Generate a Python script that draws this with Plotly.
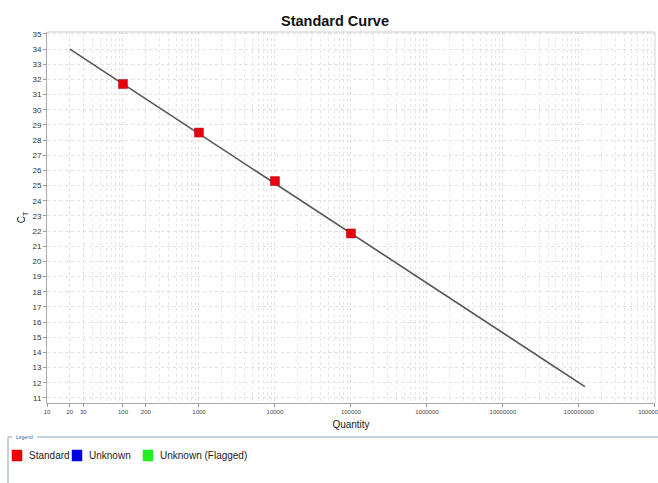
import plotly.graph_objects as go

# ---- data ----
std_quantity = [100, 1000, 10000, 100000]
std_ct = [31.7, 28.5, 25.3, 21.85]
fit_quantity = [20, 1.2e8]
fit_ct = [34.0, 11.75]

x_tickvals = [10, 20, 30, 100, 200, 1000, 10000, 100000, 1000000, 10000000, 100000000, 1000000000]
x_ticktext = ["10", "20", "30", "100", "200", "1000", "10000", "100000", "1000000",
              "10000000", "100000000", "1000000000"]
y_tickvals = list(range(11, 36))

legend_names = ["Standard", "Unknown", "Unknown (Flagged)"]
legend_colors = ["#e8000b", "#0000e0", "#22ee22"]

W, H = 658, 483
ML, MR, MT, MB = 47, 3, 32, 80
PW, PH = W - ML - MR, H - MT - MB


def px(x):
    return (x - ML) / PW


def py(y):
    return (H - MB - y) / PH


FONT = "Liberation Sans, Arial, sans-serif"
fig = go.Figure()

fig.add_trace(go.Scatter(x=fit_quantity, y=fit_ct, mode="lines",
                         line=dict(color="#555555", width=1.6),
                         showlegend=False, hoverinfo="skip"))

fig.add_trace(go.Scatter(x=std_quantity, y=std_ct, mode="markers", name=legend_names[0],
                         showlegend=False,
                         marker=dict(symbol="square", size=9, color=legend_colors[0],
                                     line=dict(color="#b00000", width=0.5))))

fig.update_layout(
    width=W, height=H,
    margin=dict(l=ML, r=MR, t=MT, b=MB, autoexpand=False),
    paper_bgcolor="white", plot_bgcolor="white",
    font=dict(family=FONT, color="#333333"),
    title=dict(text="<b>Standard Curve</b>", xref="container", x=335 / W, xanchor="center",
               yref="container", y=1 - 20.5 / H, yanchor="middle",
               font=dict(size=14.5, color="#111111", family=FONT)),
    showlegend=False,
)

fig.update_xaxes(
    type="log", range=[1, 9.002],
    tickvals=x_tickvals, ticktext=x_ticktext,
    tickfont=dict(size=6, color="#444444"),
    ticklabeloverflow="allow",
    ticks="outside", ticklen=3, tickcolor="#999999",
    showline=True, linecolor="#aaaaaa", linewidth=1, mirror=False,
    showgrid=True, gridcolor="#e0e0e0", griddash="dot", gridwidth=1,
    minor=dict(dtick="D1", showgrid=True, gridcolor="#e6e6e6", griddash="dot", ticks=""),
    title=dict(text="Quantity", font=dict(size=10, color="#222222"), standoff=6),
    zeroline=False, automargin=False,
)
fig.update_yaxes(
    range=[10.67, 35.13],
    tickvals=y_tickvals,
    tickfont=dict(size=8, color="#333333"),
    ticklabeloverflow="allow",
    ticks="outside", ticklen=3, tickcolor="#999999",
    showline=True, linecolor="#aaaaaa", linewidth=1,
    showgrid=True, gridcolor="#e0e0e0", griddash="dot", gridwidth=1,
    title=dict(text="C<sub>T</sub>", font=dict(size=10, color="#222222"), standoff=4),
    zeroline=False, automargin=False,
)

# top and right borders of plot area
fig.add_shape(type="line", xref="paper", yref="paper", x0=0, x1=1, y0=1, y1=1,
              line=dict(color="#cccccc", width=1))
fig.add_shape(type="line", xref="paper", yref="paper", x0=1, x1=1, y0=0, y1=1,
              line=dict(color="#d6d6d6", width=1))

# legend frame
frame_col = "#8aa4b8"
fig.add_shape(type="line", xref="paper", yref="paper", x0=px(8), x1=px(12), y0=py(437), y1=py(437),
              line=dict(color=frame_col, width=1))
fig.add_shape(type="line", xref="paper", yref="paper", x0=px(37), x1=px(658), y0=py(437), y1=py(437),
              line=dict(color=frame_col, width=1))
fig.add_shape(type="line", xref="paper", yref="paper", x0=px(8), x1=px(8), y0=py(437), y1=py(483),
              line=dict(color=frame_col, width=1))
fig.add_annotation(text="Legend", xref="paper", yref="paper", x=px(14), y=py(437),
                   xanchor="left", yanchor="middle", showarrow=False,
                   font=dict(size=5, color="#3366aa", family=FONT))

# legend entries
swatch_left = [12, 72, 143]
for name, col, sx in zip(legend_names, legend_colors, swatch_left):
    fig.add_shape(type="rect", xref="paper", yref="paper",
                  x0=px(sx), x1=px(sx + 10), y0=py(450), y1=py(461),
                  fillcolor=col, line=dict(color=col, width=0.5))
    fig.add_annotation(text=name, xref="paper", yref="paper", x=px(sx + 15), y=py(455.5),
                       xanchor="left", yanchor="middle", showarrow=False,
                       font=dict(size=10, color="#222222", family=FONT))

fig.write_html(
    "out.html",
    config={"displayModeBar": False},
    post_script="document.body.style.margin='0';document.body.style.overflow='hidden';",
)
